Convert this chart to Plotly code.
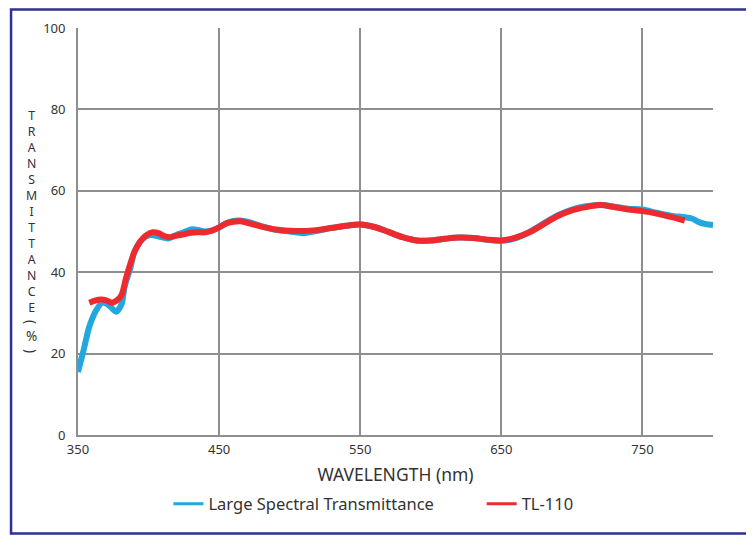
import plotly.graph_objects as go

# Large Spectral Transmittance (blue)
blue_nm = [350, 354, 358, 363, 367, 370, 373, 377, 381, 383, 387, 390, 395, 401, 408, 414,
           420, 425, 430, 435, 440, 445, 450, 455, 460, 465, 470, 480, 490, 500, 510, 520,
           530, 540, 550, 560, 570, 580, 590, 600, 610, 620, 630, 640, 650, 660, 670, 680,
           690, 700, 710, 720, 730, 740, 750, 760, 770, 780, 785, 790, 795, 800]
blue_val = [15.5, 20.9, 26.6, 30.7, 32.5, 32.3, 31.5, 30.3, 32.3, 36.4, 40.9, 45.0, 47.9, 49.1, 48.7, 48.3,
            49.2, 49.8, 50.5, 50.4, 50.0, 50.3, 51.0, 52.0, 52.6, 52.7, 52.4, 51.3, 50.4, 50.0, 49.6, 50.2,
            50.9, 51.4, 51.7, 51.1, 49.9, 48.6, 47.8, 47.8, 48.2, 48.5, 48.4, 48.0, 47.7, 48.3, 49.9, 52.0,
            54.0, 55.4, 56.2, 56.6, 56.1, 55.6, 55.4, 54.6, 53.9, 53.5, 53.2, 52.3, 51.8, 51.6]

# TL-110 (red)
red_nm = [358, 362, 366, 370, 374, 378, 381, 384, 387, 390, 394, 398, 403, 407, 411, 415,
          420, 425, 430, 435, 440, 445, 450, 455, 460, 465, 470, 480, 490, 500, 510, 520,
          530, 540, 550, 560, 570, 580, 590, 600, 610, 620, 630, 640, 650, 660, 670, 680,
          690, 700, 710, 720, 730, 740, 750, 760, 770, 780]
red_val = [32.5, 33.0, 33.3, 33.1, 32.5, 33.2, 34.5, 38.5, 42.0, 45.0, 47.5, 49.0, 49.8, 49.6, 48.9, 48.6,
           49.0, 49.3, 49.7, 49.8, 49.8, 50.2, 51.0, 52.0, 52.4, 52.5, 52.1, 51.2, 50.5, 50.2, 50.1, 50.4,
           50.9, 51.4, 51.7, 51.1, 49.9, 48.6, 47.8, 47.8, 48.2, 48.5, 48.4, 48.0, 47.8, 48.5, 49.8, 51.8,
           53.8, 55.2, 56.0, 56.5, 56.0, 55.4, 55.0, 54.4, 53.6, 52.7]

x_ticks = [350, 450, 550, 650, 750]
y_ticks = [0, 20, 40, 60, 80, 100]

y_title_word = "TRANSMITTANCE"
y_title_unit = ["(", "%", ")"]

FONT = "Noto Sans"
TXT = "#333333"
GRID = "#8E8E90"
BLUE = "#22A7DF"
RED = "#EE2A2E"

# layout geometry (page is offset by the 8px body margin)
ML, MT, MR, MB = 70, 20, 48.5, 108
PW = 754 - ML - MR
PH = 535 - MT - MB


def py2paper(page_y):
    return (535 - MB - (page_y - 8)) / PH


def px2paper(page_x):
    return (page_x - 8 - ML) / PW


fig = go.Figure()
fig.add_trace(go.Scatter(x=blue_nm, y=blue_val, mode="lines", showlegend=False,
                         name="Large Spectral Transmittance",
                         line=dict(color=BLUE, width=6, shape="spline", smoothing=0.8)))
fig.add_trace(go.Scatter(x=red_nm, y=red_val, mode="lines", showlegend=False, name="TL-110",
                         line=dict(color=RED, width=6, shape="spline", smoothing=0.8)))
# legend entries with thinner sample lines
fig.add_trace(go.Scatter(x=[None], y=[None], mode="lines", name="Large Spectral Transmittance",
                         line=dict(color=BLUE, width=3), legend="legend"))
fig.add_trace(go.Scatter(x=[None], y=[None], mode="lines", name="TL-110",
                         line=dict(color=RED, width=3), legend="legend2"))

annotations = [dict(
    text="<br>".join(y_title_word), xref="paper", yref="paper",
    x=px2paper(31), y=py2paper(211.5), xanchor="center", yanchor="middle",
    showarrow=False, font=dict(size=12.3, color=TXT, family=FONT))]
for ch, pyy in zip(y_title_unit, [322, 336, 351]):
    annotations.append(dict(
        text=ch, xref="paper", yref="paper", x=px2paper(31), y=py2paper(pyy),
        xanchor="center", yanchor="middle", showarrow=False,
        textangle=90 if ch in "()" else 0,
        font=dict(size=13.5, color=TXT, family=FONT)))

leg_common = dict(orientation="h", xanchor="left", yanchor="middle", y=py2paper(504),
                  font=dict(size=16.5, color=TXT), bgcolor="rgba(0,0,0,0)")

fig.update_layout(
    width=754, height=535,
    margin=dict(l=ML, r=MR, t=MT, b=MB),
    paper_bgcolor="white", plot_bgcolor="white",
    font=dict(family=FONT, color=TXT, size=13),
    showlegend=True,
    legend=dict(x=px2paper(168.5), **leg_common),
    legend2=dict(x=px2paper(482), **leg_common),
    xaxis=dict(range=[350, 800], tickvals=x_ticks, ticktext=[str(v) for v in x_ticks],
               showgrid=True, gridcolor=GRID, gridwidth=1.8,
               showline=True, linecolor=GRID, linewidth=1.8, zeroline=False,
               ticks="", ticklabelstandoff=1,
               tickfont=dict(size=13, color=TXT),
               title=dict(text="WAVELENGTH (nm)", font=dict(size=17.5, color=TXT), standoff=12)),
    yaxis=dict(range=[0, 100], tickvals=y_ticks, ticktext=[str(v) for v in y_ticks],
               showgrid=True, gridcolor=GRID, gridwidth=1.8,
               showline=True, linecolor=GRID, linewidth=1.8, zeroline=False,
               ticks="", ticklabelstandoff=8,
               tickfont=dict(size=13, color=TXT)),
    annotations=annotations,
    shapes=[dict(type="rect", xref="paper", yref="paper",
                 x0=px2paper(11), x1=px2paper(748), y0=py2paper(533.5), y1=py2paper(9.5),
                 line=dict(color="#2E3192", width=2.5), fillcolor="rgba(0,0,0,0)", layer="below")],
)

fig.write_html("out.html")
